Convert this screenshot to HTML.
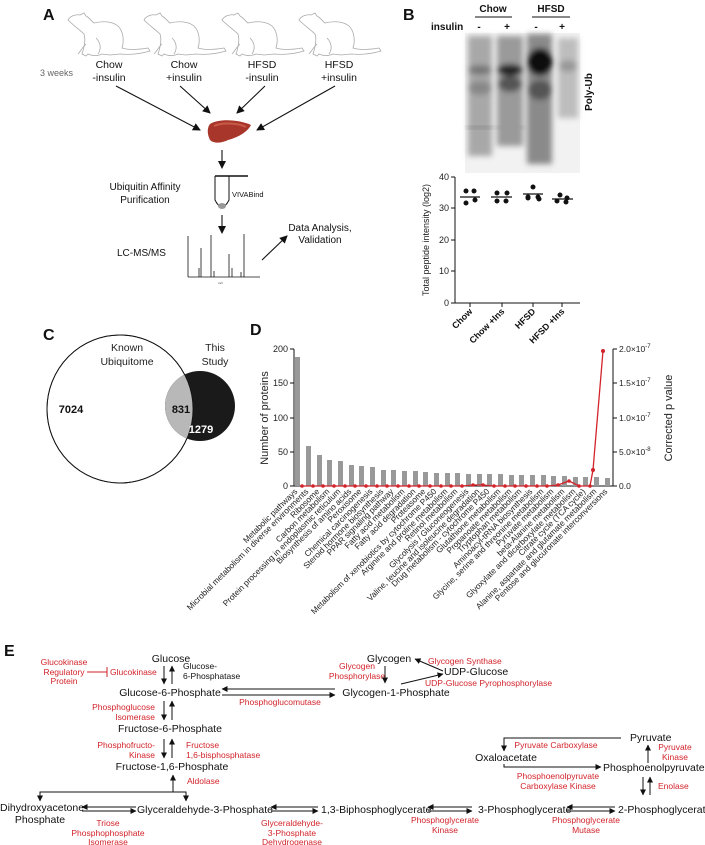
<!DOCTYPE html>
<html><head><meta charset="utf-8"><style>
html,body{margin:0;padding:0;background:#fff;}
svg{display:block;font-family:"Liberation Sans",Arial,sans-serif;}
.r{fill:#d2232a;}
.k{fill:#111;}
</style></head><body>
<svg width="705" height="845" viewBox="0 0 705 845" xmlns="http://www.w3.org/2000/svg">
<defs>
<marker id="ah" markerWidth="8" markerHeight="8" refX="7" refY="4" orient="auto" markerUnits="userSpaceOnUse"><path d="M0,0 L8,4 L0,8 Z" fill="#111"/></marker>
<marker id="as" markerWidth="6" markerHeight="6" refX="5.5" refY="3" orient="auto" markerUnits="userSpaceOnUse"><path d="M0,0 L6,3 L0,6 Z" fill="#111"/></marker>
<filter id="bl" x="-20%" y="-20%" width="140%" height="140%"><feGaussianBlur stdDeviation="3"/></filter>
<g id="rat" fill="none" stroke="#aaa" stroke-width="0.8">
<path d="M6,12 C8,8 14,6 18,7 L22,5 L24,8 C28,10 30,14 32,15 C40,13 50,13 56,18 C62,24 62,34 60,40 C66,42 76,42 86,40 L88,43 C78,46 68,47 58,46 L48,47 L40,46 C36,48 30,48 26,46 L24,48 L20,46 C22,40 24,32 22,26 C18,22 12,18 6,12 Z"/>
<path d="M34,30 C38,34 40,40 36,46 M24,36 C20,40 18,44 16,46"/>
</g>
</defs>

<!-- Panel A -->
<text x="43" y="20" font-size="16" font-weight="bold" class="k">A</text>
<use href="#rat" x="62" y="8"/>
<use href="#rat" x="138" y="8"/>
<use href="#rat" x="216" y="8"/>
<use href="#rat" x="293" y="8"/>
<text x="40" y="76" font-size="9" fill="#666">3 weeks</text>
<g font-size="10.5" class="k" text-anchor="middle">
<text x="109" y="68">Chow</text><text x="109" y="81">-insulin</text>
<text x="184" y="68">Chow</text><text x="184" y="81">+insulin</text>
<text x="262" y="68">HFSD</text><text x="262" y="81">-insulin</text>
<text x="339" y="68">HFSD</text><text x="339" y="81">+insulin</text>
</g>
<g stroke="#111" stroke-width="1.1" marker-end="url(#ah)">
<line x1="116" y1="86" x2="200" y2="130"/>
<line x1="180" y1="86" x2="210" y2="113"/>
<line x1="265" y1="86" x2="237" y2="113"/>
<line x1="335" y1="86" x2="257" y2="130"/>
<line x1="222" y1="150" x2="222" y2="168"/>
<line x1="222" y1="215" x2="222" y2="233"/>
<line x1="262" y1="260" x2="287" y2="236"/>
</g>
<path d="M210,124 C220,118 240,120 251,125 C247,133 236,138 228,140 C222,143 214,144 210,140 C207,134 207,128 210,124 Z" fill="#a8362a"/>
<path d="M214,126 C222,122 238,123 246,127" stroke="#c85a48" stroke-width="2" fill="none"/>
<text x="145" y="190" font-size="10" class="k" text-anchor="middle">Ubiquitin Affinity</text>
<text x="145" y="203" font-size="10" class="k" text-anchor="middle">Purification</text>
<path d="M215,176 L215,200 Q222,214 229,200 L229,176" fill="none" stroke="#111" stroke-width="1"/>
<line x1="215" y1="176" x2="248" y2="176" stroke="#111" stroke-width="1.5"/>
<ellipse cx="222" cy="206" rx="4" ry="3" fill="#999"/>
<text x="232" y="197" font-size="7.5" class="k">VIVABind</text>
<text x="117" y="256" font-size="10" class="k">LC-MS/MS</text>
<g stroke="#111" stroke-width="0.8">
<line x1="188" y1="236" x2="188" y2="277"/><line x1="188" y1="277" x2="260" y2="277"/>
<line x1="199" y1="277" x2="199" y2="268"/><line x1="201" y1="277" x2="201" y2="248"/>
<line x1="211" y1="277" x2="211" y2="235"/><line x1="214" y1="277" x2="214" y2="271"/>
<line x1="229" y1="277" x2="229" y2="254"/><line x1="232" y1="277" x2="232" y2="268"/>
<line x1="244" y1="277" x2="244" y2="234"/><line x1="241" y1="277" x2="241" y2="272"/>
</g>
<text x="218" y="284" font-size="3" fill="#333">m/z</text>
<text x="320" y="231" font-size="10" class="k" text-anchor="middle">Data Analysis,</text>
<text x="320" y="243" font-size="10" class="k" text-anchor="middle">Validation</text>

<!-- Panel B -->
<text x="403" y="20" font-size="16" font-weight="bold" class="k">B</text>
<text x="493" y="12" font-size="10" font-weight="bold" class="k" text-anchor="middle">Chow</text>
<text x="551" y="12" font-size="10" font-weight="bold" class="k" text-anchor="middle">HFSD</text>
<line x1="475" y1="17" x2="512" y2="17" stroke="#111"/>
<line x1="532" y1="17" x2="570" y2="17" stroke="#111"/>
<text x="431" y="30" font-size="10" font-weight="bold" class="k">insulin</text>
<g font-size="10" font-weight="bold" class="k" text-anchor="middle">
<text x="479" y="30">-</text><text x="507" y="30">+</text><text x="536" y="30">-</text><text x="562" y="30">+</text></g>
<rect x="465" y="33" width="115" height="140" fill="#f2f2f2"/>
<g filter="url(#bl)">
<rect x="468" y="36" width="24" height="120" fill="#a8a8a8"/>
<rect x="497" y="36" width="26" height="110" fill="#9a9a9a"/>
<rect x="527" y="34" width="25" height="130" fill="#8a8a8a"/>
<rect x="558" y="38" width="20" height="80" fill="#bdbdbd"/>
<ellipse cx="480" cy="70" rx="12" ry="5" fill="#777"/>
<ellipse cx="480" cy="88" rx="12" ry="7" fill="#888"/>
<ellipse cx="510" cy="70" rx="13" ry="6" fill="#222"/>
<ellipse cx="510" cy="84" rx="12" ry="8" fill="#555"/>
<ellipse cx="540" cy="62" rx="13" ry="14" fill="#111"/>
<ellipse cx="540" cy="90" rx="12" ry="10" fill="#555"/>
<ellipse cx="568" cy="66" rx="9" ry="6" fill="#999"/>
</g>
<rect x="468" y="126" width="24" height="3" fill="#888" filter="url(#bl)"/>
<rect x="497" y="126" width="26" height="3" fill="#999" filter="url(#bl)"/>
<text transform="translate(592,92) rotate(-90)" font-size="10" font-weight="bold" class="k" text-anchor="middle">Poly-Ub</text>
<g stroke="#111" stroke-width="1" fill="none">
<line x1="455" y1="177" x2="455" y2="303"/><line x1="455" y1="303" x2="580" y2="303"/>
<line x1="451" y1="177" x2="455" y2="177"/><line x1="451" y1="208" x2="455" y2="208"/><line x1="451" y1="240" x2="455" y2="240"/><line x1="451" y1="271" x2="455" y2="271"/><line x1="451" y1="303" x2="455" y2="303"/>
<line x1="470" y1="303" x2="470" y2="307"/><line x1="502" y1="303" x2="502" y2="307"/><line x1="533" y1="303" x2="533" y2="307"/><line x1="562" y1="303" x2="562" y2="307"/>
</g>
<g font-size="9" fill="#222" text-anchor="end">
<text x="449" y="180">40</text><text x="449" y="211">30</text><text x="449" y="243">20</text><text x="449" y="274">10</text><text x="449" y="306">0</text></g>
<text transform="translate(429,240) rotate(-90)" font-size="9" fill="#222" text-anchor="middle">Total peptide intensity (log2)</text>
<g fill="#111">
<circle cx="466" cy="191" r="2.5"/><circle cx="474" cy="191" r="2.5"/><circle cx="466" cy="203" r="2.5"/><circle cx="475" cy="200" r="2.5"/>
<circle cx="497" cy="193" r="2.5"/><circle cx="507" cy="193" r="2.5"/><circle cx="497" cy="201" r="2.5"/><circle cx="506" cy="201" r="2.5"/>
<circle cx="533" cy="187" r="2.5"/><circle cx="528" cy="197" r="2.5"/><circle cx="538" cy="197" r="2.5"/><circle cx="528" cy="198" r="2.5"/><circle cx="539" cy="199" r="2.5"/>
<circle cx="560" cy="195" r="2.5"/><circle cx="567" cy="198" r="2.5"/><circle cx="557" cy="201" r="2.5"/><circle cx="566" cy="202" r="2.5"/>
</g>
<g stroke="#111" stroke-width="1.2">
<line x1="460" y1="197" x2="480" y2="197"/><line x1="491" y1="197" x2="512" y2="197"/><line x1="523" y1="194" x2="543" y2="194"/><line x1="552" y1="199" x2="573" y2="199"/>
</g>
<g font-size="9" font-weight="bold" class="k" text-anchor="end">
<text transform="translate(473,312) rotate(-45)">Chow</text>
<text transform="translate(505,312) rotate(-45)">Chow +Ins</text>
<text transform="translate(536,312) rotate(-45)">HFSD</text>
<text transform="translate(565,312) rotate(-45)">HFSD +Ins</text>
</g>

<!-- Panel C -->
<text x="43" y="340" font-size="16" font-weight="bold" class="k">C</text>
<ellipse cx="120" cy="409" rx="73" ry="74" fill="#fff" stroke="#111" stroke-width="1"/>
<defs><clipPath id="bc"><ellipse cx="120" cy="409" rx="73" ry="74"/></clipPath></defs>
<circle cx="200" cy="406" r="35" fill="#1a1a1a"/>
<circle cx="200" cy="406" r="35" fill="#b8b8b8" clip-path="url(#bc)"/>
<ellipse cx="120" cy="409" rx="73" ry="74" fill="none" stroke="#111" stroke-width="0.8"/>
<text x="127" y="351" font-size="10.5" fill="#222" text-anchor="middle">Known</text>
<text x="127" y="365" font-size="10.5" fill="#222" text-anchor="middle">Ubiquitome</text>
<text x="215" y="351" font-size="10.5" fill="#222" text-anchor="middle">This</text>
<text x="215" y="365" font-size="10.5" fill="#222" text-anchor="middle">Study</text>
<text x="71" y="413" font-size="11" font-weight="bold" class="k" text-anchor="middle">7024</text>
<text x="181" y="413" font-size="11" font-weight="bold" class="k" text-anchor="middle">831</text>
<text x="201" y="433" font-size="11" font-weight="bold" fill="#fff" text-anchor="middle">1279</text>

<!-- Panel D -->
<text x="250" y="335" font-size="16" font-weight="bold" class="k">D</text>
<g stroke="#111" stroke-width="1">
<line x1="294" y1="349" x2="294" y2="486"/><line x1="294" y1="486" x2="613" y2="486"/>
<line x1="613" y1="349" x2="613" y2="486"/>
<line x1="290" y1="349" x2="294" y2="349"/><line x1="290" y1="383" x2="294" y2="383"/><line x1="290" y1="418" x2="294" y2="418"/><line x1="290" y1="452" x2="294" y2="452"/><line x1="290" y1="486" x2="294" y2="486"/>
<line x1="613" y1="349" x2="617" y2="349"/><line x1="613" y1="383" x2="617" y2="383"/><line x1="613" y1="418" x2="617" y2="418"/><line x1="613" y1="452" x2="617" y2="452"/><line x1="613" y1="486" x2="617" y2="486"/>
</g>
<g font-size="9" fill="#222" text-anchor="end">
<text x="288" y="352">200</text><text x="288" y="386">150</text><text x="288" y="421">100</text><text x="288" y="455">50</text><text x="288" y="489">0</text></g>
<g font-size="8.5" fill="#222">
<text x="619" y="352">2.0×10<tspan dy="-4" font-size="6">-7</tspan></text>
<text x="619" y="386">1.5×10<tspan dy="-4" font-size="6">-7</tspan></text>
<text x="619" y="421">1.0×10<tspan dy="-4" font-size="6">-7</tspan></text>
<text x="619" y="455">5.0×10<tspan dy="-4" font-size="6">-8</tspan></text>
<text x="619" y="489">0.0</text></g>
<text transform="translate(268,418) rotate(-90)" font-size="11" fill="#222" text-anchor="middle">Number of proteins</text>
<text transform="translate(672,418) rotate(-90)" font-size="11" fill="#222" text-anchor="middle">Corrected p value</text>
<g fill="#999">
<rect x="295" y="357" width="5" height="129"/><rect x="306" y="446" width="5" height="40"/><rect x="317" y="455" width="5" height="31"/><rect x="327" y="460" width="5" height="26"/><rect x="338" y="461" width="5" height="25"/><rect x="349" y="465" width="5" height="21"/><rect x="359" y="466" width="5" height="20"/><rect x="370" y="467" width="5" height="19"/><rect x="381" y="470" width="5" height="16"/><rect x="391" y="470" width="5" height="16"/><rect x="402" y="471" width="5" height="15"/><rect x="413" y="471" width="5" height="15"/><rect x="423" y="472" width="5" height="14"/><rect x="434" y="473" width="5" height="13"/><rect x="445" y="473" width="5" height="13"/><rect x="455" y="473" width="5" height="13"/><rect x="466" y="474" width="5" height="12"/><rect x="477" y="474" width="5" height="12"/><rect x="487" y="474" width="5" height="12"/><rect x="498" y="474" width="5" height="12"/><rect x="509" y="475" width="5" height="11"/><rect x="519" y="475" width="5" height="11"/><rect x="530" y="475" width="5" height="11"/><rect x="541" y="475" width="5" height="11"/><rect x="551" y="476" width="5" height="10"/><rect x="562" y="476" width="5" height="10"/><rect x="573" y="477" width="5" height="9"/><rect x="583" y="477" width="5" height="9"/><rect x="594" y="477" width="5" height="9"/><rect x="605" y="478" width="5" height="8"/>
</g>
<polyline fill="none" stroke="#d2232a" stroke-width="1.3" points="302,486 313,486 323,486 334,486 345,486 355,486 366,486 377,486 387,486 398,486 409,486 419,486 430,486 441,486 451,486 462,486 473,485 483,485 494,486 505,486 515,486 526,486 537,486 547,486 558,485 569,481 579,486 590,486 593,470 603,351"/>
<g fill="#d2232a">
<circle cx="302" cy="486" r="1.8"/><circle cx="313" cy="486" r="1.8"/><circle cx="323" cy="486" r="1.8"/><circle cx="334" cy="486" r="1.8"/><circle cx="345" cy="486" r="1.8"/><circle cx="355" cy="486" r="1.8"/><circle cx="366" cy="486" r="1.8"/><circle cx="377" cy="486" r="1.8"/><circle cx="387" cy="486" r="1.8"/><circle cx="398" cy="486" r="1.8"/><circle cx="409" cy="486" r="1.8"/><circle cx="419" cy="486" r="1.8"/><circle cx="430" cy="486" r="1.8"/><circle cx="441" cy="486" r="1.8"/><circle cx="451" cy="486" r="1.8"/><circle cx="462" cy="486" r="1.8"/><circle cx="473" cy="485" r="1.8"/><circle cx="483" cy="485" r="1.8"/><circle cx="494" cy="486" r="1.8"/><circle cx="505" cy="486" r="1.8"/><circle cx="515" cy="486" r="1.8"/><circle cx="526" cy="486" r="1.8"/><circle cx="537" cy="486" r="1.8"/><circle cx="547" cy="486" r="1.8"/><circle cx="558" cy="485" r="1.8"/><circle cx="569" cy="481" r="1.8"/><circle cx="579" cy="486" r="1.8"/><circle cx="590" cy="486" r="1.8"/><circle cx="593" cy="470" r="2"/><circle cx="603" cy="351" r="2"/>
</g>
<g font-size="8.3" fill="#222" text-anchor="end">
<text transform="translate(298,492) rotate(-45)">Metabolic pathways</text>
<text transform="translate(309,492) rotate(-45)">Microbial metabolism in diverse environments</text>
<text transform="translate(320,492) rotate(-45)">Ribosome</text>
<text transform="translate(330,492) rotate(-45)">Carbon metabolism</text>
<text transform="translate(341,492) rotate(-45)">Protein processing in endoplasmic reticulum</text>
<text transform="translate(352,492) rotate(-45)">Biosynthesis of amino acids</text>
<text transform="translate(362,492) rotate(-45)">Peroxisome</text>
<text transform="translate(373,492) rotate(-45)">Chemical carcinogenesis</text>
<text transform="translate(384,492) rotate(-45)">Steroid hormone biosynthesis</text>
<text transform="translate(394,492) rotate(-45)">PPAR signaling pathway</text>
<text transform="translate(405,492) rotate(-45)">Fatty acid metabolism</text>
<text transform="translate(416,492) rotate(-45)">Fatty acid degradation</text>
<text transform="translate(426,492) rotate(-45)">Proteasome</text>
<text transform="translate(437,492) rotate(-45)">Metabolism of xenobiotics by cytochrome P450</text>
<text transform="translate(448,492) rotate(-45)">Arginine and proline metabolism</text>
<text transform="translate(458,492) rotate(-45)">Retinol metabolism</text>
<text transform="translate(469,492) rotate(-45)">Glycolysis / Gluconeogenesis</text>
<text transform="translate(480,492) rotate(-45)">Valine, leucine and isoleucine degradation</text>
<text transform="translate(490,492) rotate(-45)">Drug metabolism - cytochrome P450</text>
<text transform="translate(501,492) rotate(-45)">Glutathione metabolism</text>
<text transform="translate(512,492) rotate(-45)">Propanoate metabolism</text>
<text transform="translate(522,492) rotate(-45)">Tryptophan metabolism</text>
<text transform="translate(533,492) rotate(-45)">Aminoacyl-tRNA biosynthesis</text>
<text transform="translate(544,492) rotate(-45)">Glycine, serine and threonine metabolism</text>
<text transform="translate(554,492) rotate(-45)">Pyruvate metabolism</text>
<text transform="translate(565,492) rotate(-45)">beta-Alanine metabolism</text>
<text transform="translate(576,492) rotate(-45)">Glyoxylate and dicarboxylate metabolism</text>
<text transform="translate(586,492) rotate(-45)">Citrate cycle (TCA cycle)</text>
<text transform="translate(597,492) rotate(-45)">Alanine, aspartate and glutamate metabolism</text>
<text transform="translate(608,492) rotate(-45)">Pentose and glucuronate interconversions</text>
</g>

<!-- Panel E -->
<text x="4" y="656" font-size="16" font-weight="bold" class="k">E</text>
<g font-size="10.5" class="k">
<text x="171" y="662" text-anchor="middle">Glucose</text>
<text x="170" y="696" text-anchor="middle">Glucose-6-Phosphate</text>
<text x="170" y="732" text-anchor="middle">Fructose-6-Phosphate</text>
<text x="172" y="770" text-anchor="middle">Fructose-1,6-Phosphate</text>
<text x="42" y="811" text-anchor="middle">Dihydroxyacetone</text>
<text x="40" y="823" text-anchor="middle">Phosphate</text>
<text x="205" y="813" text-anchor="middle">Glyceraldehyde-3-Phosphate</text>
<text x="321" y="813">1,3-Biphosphoglycerate</text>
<text x="478" y="813">3-Phosphoglycerate</text>
<text x="618" y="813">2-Phosphoglycerate</text>
<text x="603" y="771">Phosphoenolpyruvate</text>
<text x="506" y="761" text-anchor="middle">Oxaloacetate</text>
<text x="630" y="741">Pyruvate</text>
<text x="389" y="662" text-anchor="middle">Glycogen</text>
<text x="396" y="696" text-anchor="middle">Glycogen-1-Phosphate</text>
<text x="444" y="675">UDP-Glucose</text>
</g>
<g font-size="8.5" class="k">
<text x="183" y="669">Glucose-</text><text x="183" y="679">6-Phosphatase</text>
</g>
<g font-size="8.5" class="r">
<g text-anchor="middle"><text x="64" y="665">Glucokinase</text><text x="64" y="675">Regulatory</text><text x="64" y="684">Protein</text></g>
<text x="110" y="675">Glucokinase</text>
<text x="280" y="705" text-anchor="middle">Phosphoglucomutase</text>
<g text-anchor="end"><text x="155" y="710">Phosphoglucose</text><text x="155" y="720">Isomerase</text>
<text x="155" y="748">Phosphofructo-</text><text x="155" y="758">Kinase</text></g>
<text x="186" y="748">Fructose</text><text x="186" y="758">1,6-bisphosphatase</text>
<text x="187" y="784">Aldolase</text>
<g text-anchor="middle">
<text x="108" y="826">Triose</text><text x="108" y="836">Phosphophosphate</text><text x="108" y="845">Isomerase</text>
<text x="292" y="826">Glyceraldehyde-</text><text x="292" y="836">3-Phosphate</text><text x="292" y="845">Dehydrogenase</text>
<text x="445" y="823">Phosphoglycerate</text><text x="445" y="833">Kinase</text>
<text x="586" y="823">Phosphoglycerate</text><text x="586" y="833">Mutase</text>
<text x="556" y="748">Pyruvate Carboxylase</text>
<text x="675" y="750">Pyruvate</text><text x="675" y="760">Kinase</text>
<text x="558" y="779">Phosphoenolpyruvate</text><text x="558" y="789">Carboxylase Kinase</text>
<text x="357" y="669">Glycogen</text><text x="357" y="679">Phosphorylase</text>
</g>
<text x="658" y="789">Enolase</text>
<text x="428" y="664">Glycogen Synthase</text>
<text x="425" y="686">UDP-Glucose Pyrophosphorylase</text>
</g>
<g stroke="#d2232a" stroke-width="1"><line x1="87" y1="672" x2="107" y2="672"/><line x1="107" y1="667" x2="107" y2="677"/></g>
<g stroke="#111" stroke-width="1" fill="none" marker-end="url(#as)">
<line x1="164" y1="666" x2="164" y2="684"/><line x1="172" y1="684" x2="172" y2="666"/>
<line x1="164" y1="701" x2="164" y2="720"/><line x1="172" y1="720" x2="172" y2="701"/>
<line x1="164" y1="739" x2="164" y2="758"/><line x1="172" y1="758" x2="172" y2="739"/>
<line x1="335" y1="689" x2="222" y2="689"/><line x1="222" y1="695" x2="335" y2="695"/>
<line x1="173" y1="792" x2="173" y2="775"/>
<path d="M173,792 L40,792 L40,801"/><path d="M173,792 L186,792 L186,801"/>
<line x1="136" y1="807" x2="82" y2="807"/><line x1="82" y1="811" x2="136" y2="811"/>
<line x1="318" y1="807" x2="271" y2="807"/><line x1="271" y1="811" x2="318" y2="811"/>
<line x1="472" y1="807" x2="428" y2="807"/><line x1="428" y1="811" x2="472" y2="811"/>
<line x1="615" y1="807" x2="567" y2="807"/><line x1="567" y1="811" x2="615" y2="811"/>
<line x1="643" y1="777" x2="643" y2="795"/><line x1="650" y1="795" x2="650" y2="777"/>
<line x1="648" y1="763" x2="648" y2="745"/>
<path d="M621,738 L504,738 L504,751"/>
<path d="M504,764 L504,767 L601,767"/>
<line x1="385" y1="666" x2="385" y2="683"/>
<line x1="443" y1="671" x2="415" y2="659"/>
<line x1="401" y1="684" x2="443" y2="674"/>
</g>
</svg>
</body></html>
